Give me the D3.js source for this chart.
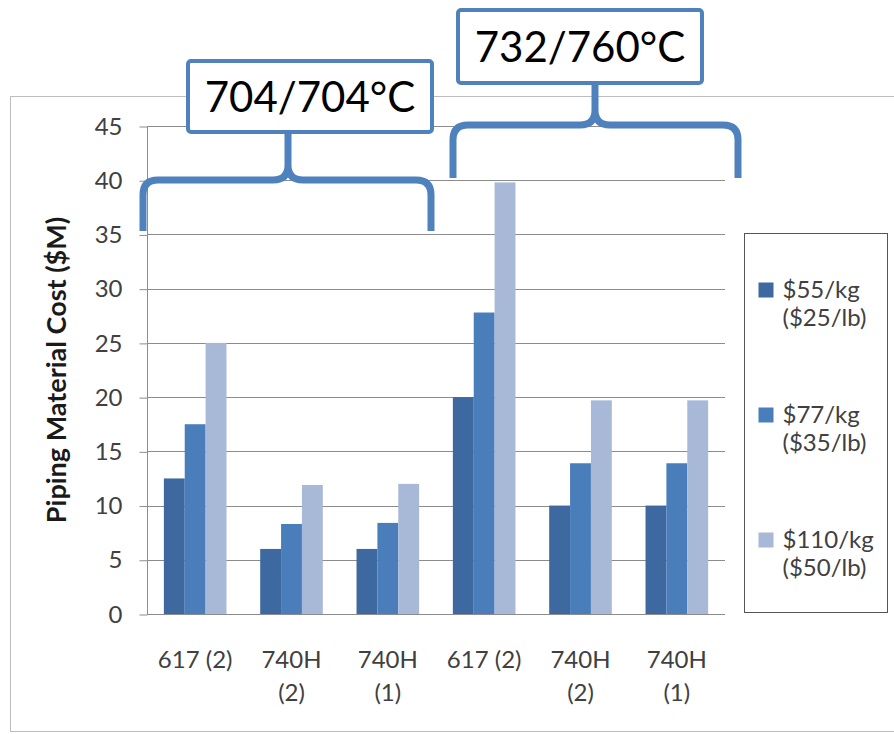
<!DOCTYPE html>
<html>
<head>
<meta charset="utf-8">
<script src="https://cdn.jsdelivr.net/npm/d3@7"></script>
<style>
  html, body { margin: 0; padding: 0; background: #ffffff; }
  svg { display: block; font-family: Lato, "Noto Sans", sans-serif; }
</style>
</head>
<body>
<svg id="chart" width="894" height="734"></svg>
<script>
// Category labels (each entry is one wrapped label, line by line)
const categoryLines = [
  ["617 (2)"],
  ["740H", "(2)"],
  ["740H", "(1)"],
  ["617 (2)"],
  ["740H", "(2)"],
  ["740H", "(1)"]
];

// Series: material price, with legend text split over two lines
const seriesNames = ["$55/kg ($25/lb)", "$77/kg ($35/lb)", "$110/kg ($50/lb)"];
const seriesLegendLines = [
  ["$55/kg", "($25/lb)"],
  ["$77/kg", "($35/lb)"],
  ["$110/kg", "($50/lb)"]
];
const seriesColors = ["#3e68a0", "#4a7ebb", "#a7b9d7"];

// Piping material cost ($M) per category for each price
const cost55 = [12.5, 6.0, 6.0, 20.0, 10.0, 10.0];
const cost77 = [17.5, 8.3, 8.4, 27.8, 13.9, 13.9];
const cost110 = [25.0, 11.9, 12.0, 39.8, 19.7, 19.7];

// Y axis ticks
const yTicks = [0, 5, 10, 15, 20, 25, 30, 35, 40, 45];
const yTitle = "Piping Material Cost ($M)";

// Temperature group annotations
const groupLabels = ["704/704°C", "732/760°C"];

const seriesValues = [cost55, cost77, cost110];

const svg = d3.select("#chart");
const plot = { left: 147, right: 725, top: 126, bottom: 614 };

// Outer chart frame
svg.append("rect")
  .attr("x", 10.5).attr("y", 96.5)
  .attr("width", 920).attr("height", 635)
  .attr("fill", "#ffffff")
  .attr("stroke", "#bdbdbd").attr("stroke-width", 1);

const y = d3.scaleLinear().domain([0, 45]).range([plot.bottom, plot.top]);
const x = d3.scaleBand()
  .domain(categoryLines.map((d, i) => i))
  .range([plot.left, plot.right])
  .paddingInner(0.35)
  .paddingOuter(0.175);
const xs = d3.scaleBand()
  .domain(seriesNames)
  .range([0, x.bandwidth()]);

// Horizontal gridlines
svg.append("g")
  .selectAll("line")
  .data(yTicks)
  .join("line")
  .attr("x1", plot.left).attr("x2", plot.right)
  .attr("y1", d => Math.round(y(d)) + 0.5)
  .attr("y2", d => Math.round(y(d)) + 0.5)
  .attr("stroke", "#8c8c8c").attr("stroke-width", 1);

// Y axis
const yAxis = svg.append("g")
  .attr("transform", `translate(${plot.left + 0.5},0.5)`)
  .call(d3.axisLeft(y).tickValues(yTicks).tickSize(8).tickPadding(17).tickFormat(d3.format("d")));
yAxis.select(".domain").attr("stroke", "#8c8c8c").attr("d", `M0,${Math.round(y(45))}V${Math.round(y(0))}`);
yAxis.selectAll(".tick line").attr("stroke", "#8c8c8c");
yAxis.selectAll(".tick text")
  .attr("font-size", 24).attr("fill", "#404040")
  .attr("font-family", "Lato, sans-serif");

// Y axis title
svg.append("text")
  .attr("transform", `translate(66,${(plot.top + plot.bottom) / 2}) rotate(-90)`)
  .attr("text-anchor", "middle")
  .attr("font-size", 27).attr("font-weight", "bold").attr("fill", "#1a1a1a")
  .text(yTitle);

// Bars
const groups = svg.append("g")
  .selectAll("g")
  .data(categoryLines.map((d, i) => i))
  .join("g")
  .attr("transform", i => `translate(${x(i)},0)`);

groups.selectAll("rect")
  .data(i => seriesNames.map((s, k) => ({ s, k, v: seriesValues[k][i] })))
  .join("rect")
  .attr("x", d => xs(d.s))
  .attr("width", xs.bandwidth())
  .attr("y", d => y(d.v))
  .attr("height", d => y(0) - y(d.v))
  .attr("fill", d => seriesColors[d.k]);

// Category labels
const xl = svg.append("g")
  .selectAll("text")
  .data(categoryLines)
  .join("text")
  .attr("text-anchor", "middle")
  .attr("font-size", 24).attr("fill", "#404040");
xl.each(function (lines, i) {
  d3.select(this).selectAll("tspan")
    .data(lines)
    .join("tspan")
    .attr("x", x(i) + x.bandwidth() / 2)
    .attr("y", (d, j) => 668 + j * 33)
    .text(d => d);
});

// Legend
const lg = svg.append("g").attr("transform", "translate(744.5,233.5)");
lg.append("rect")
  .attr("width", 143).attr("height", 379)
  .attr("fill", "#ffffff").attr("stroke", "#555555").attr("stroke-width", 1);
const li = lg.selectAll("g.item")
  .data(seriesLegendLines)
  .join("g")
  .attr("class", "item")
  .attr("transform", (d, k) => `translate(0,${64 + k * 125})`);
li.append("rect")
  .attr("x", 14).attr("y", -15)
  .attr("width", 15).attr("height", 15)
  .attr("fill", (d, k) => seriesColors[k]);
li.append("text")
  .attr("font-size", 24).attr("fill", "#404040")
  .selectAll("tspan")
  .data(d => d)
  .join("tspan")
  .attr("x", 38)
  .attr("y", (d, j) => j * 28)
  .text(d => d);

// Group brackets with their temperature labels
const bracketColor = "#4f81bd";
function bracket(x0, x1, yBar, yEnd, xStem, yTop) {
  const r = 15;
  return `M${x0},${yEnd}V${yBar + r}Q${x0},${yBar} ${x0 + r},${yBar}` +
    `H${xStem - r}Q${xStem},${yBar} ${xStem},${yBar - r}V${yTop}` +
    `M${x1},${yEnd}V${yBar + r}Q${x1},${yBar} ${x1 - r},${yBar}` +
    `H${xStem + r}Q${xStem},${yBar} ${xStem},${yBar - r}`;
}
const brackets = [
  { x0: 143, x1: 431, yBar: 180, yEnd: 231, stem: 288, box: [188, 61, 244, 71], label: groupLabels[0] },
  { x0: 453, x1: 738, yBar: 125, yEnd: 178, stem: 595, box: [458, 10, 244, 73], label: groupLabels[1] }
];
const bg = svg.append("g")
  .selectAll("g")
  .data(brackets)
  .join("g");
bg.append("path")
  .attr("d", d => bracket(d.x0, d.x1, d.yBar, d.yEnd, d.stem, d.box[1] + d.box[3]))
  .attr("fill", "none").attr("stroke", bracketColor).attr("stroke-width", 7);
bg.append("rect")
  .attr("x", d => d.box[0]).attr("y", d => d.box[1])
  .attr("width", d => d.box[2]).attr("height", d => d.box[3])
  .attr("rx", 3)
  .attr("fill", "#ffffff").attr("stroke", bracketColor).attr("stroke-width", 4);
bg.append("text")
  .attr("x", d => d.box[0] + d.box[2] / 2)
  .attr("y", d => d.box[1] + d.box[3] / 2 + 15)
  .attr("text-anchor", "middle")
  .attr("font-size", 42).attr("fill", "#000000")
  .text(d => d.label);
</script>
</body>
</html>
